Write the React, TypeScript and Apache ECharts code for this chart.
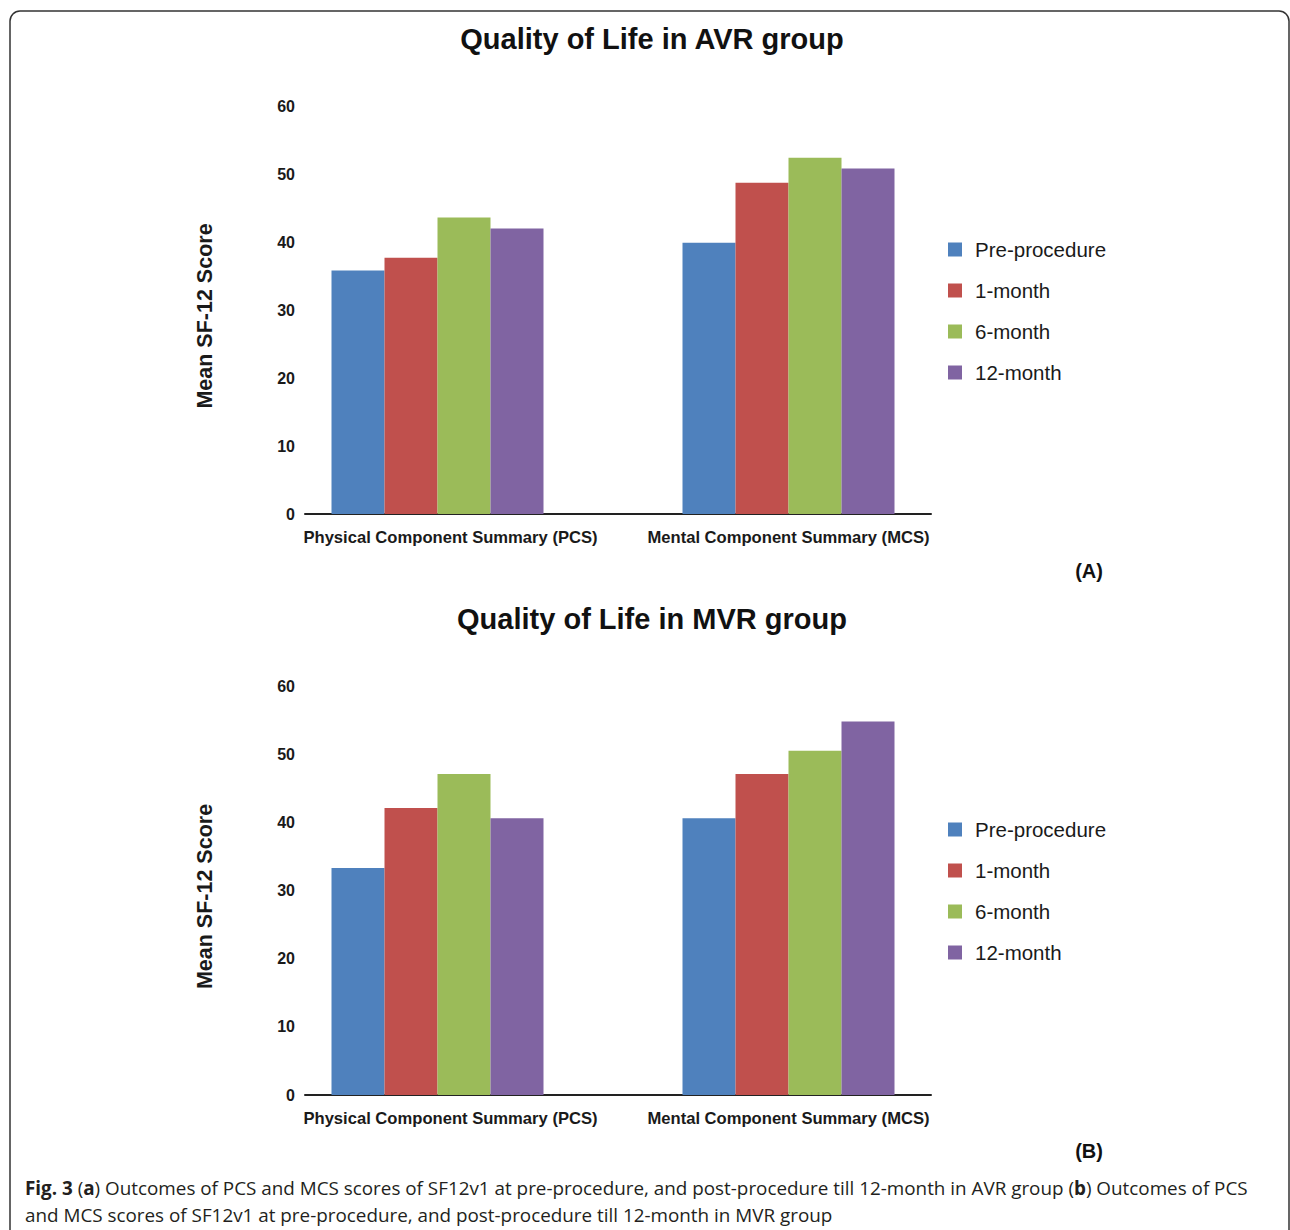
import React, { useEffect, useRef } from "react";
import * as echarts from "echarts";

const categories = ["Physical Component Summary (PCS)", "Mental Component Summary (MCS)"];
const seriesNames = ["Pre-procedure", "1-month", "6-month", "12-month"];
const seriesColors = ["#4F81BD", "#C0504D", "#9BBB59", "#8064A2"];

// AVR group [PCS, MCS]
const avrPre = [35.8, 39.9];
const avr1m = [37.7, 48.7];
const avr6m = [43.6, 52.4];
const avr12m = [42.0, 50.8];

// MVR group [PCS, MCS]
const mvrPre = [33.3, 40.6];
const mvr1m = [42.1, 47.1];
const mvr6m = [47.1, 50.5];
const mvr12m = [40.6, 54.8];

const yMin = 0;
const yMax = 60;
const yInterval = 10;

const titles = ["Quality of Life in AVR group", "Quality of Life in MVR group"];
const panelTags = ["(A)", "(B)"];
const yName = "Mean SF-12 Score";

const FONT = "'Liberation Sans', Arial, Helvetica, sans-serif";
const CAP_FONT = "'Open Sans', sans-serif";

export default function App() {
  const ref = useRef<HTMLDivElement>(null);

  useEffect(() => {
    document.body.style.margin = "0";
    if (!ref.current) return;
    const chart = echarts.init(ref.current, null, { renderer: "svg" });

    const panels = [
      { data: [avrPre, avr1m, avr6m, avr12m], top: 106, height: 408 },
      { data: [mvrPre, mvr1m, mvr6m, mvr12m], top: 686, height: 409 },
    ];

    const catLabelStyle = {
      fontFamily: FONT,
      fontWeight: "bold",
      fontSize: 16.6,
      color: "#1a1a1a",
    };

    const grids: any[] = [];
    const xAxes: any[] = [];
    const yAxes: any[] = [];
    const series: any[] = [];
    const legends: any[] = [];
    const graphics: any[] = [];

    panels.forEach((p, i) => {
      const gMain = i * 2;
      const gAxis = i * 2 + 1;
      grids.push({ left: 262, width: 702, top: p.top, height: p.height });
      grids.push({ left: 305, width: 626, top: p.top, height: p.height });
      xAxes.push({
        type: "category",
        gridIndex: gMain,
        data: categories,
        axisLine: { show: false },
        axisTick: { show: false },
        axisLabel: {
          margin: 15,
          ...catLabelStyle,
          interval: 0,
          formatter: (v: string, idx: number) => (idx === 0 ? `{p|${v}}` : `{m|${v}}`),
          rich: {
            p: { ...catLabelStyle, padding: [0, 0, 0, 26] },
            m: { ...catLabelStyle },
          },
        },
      });
      xAxes.push({
        type: "category",
        gridIndex: gAxis,
        data: categories,
        axisLine: { show: true, lineStyle: { color: "#222", width: 2 } },
        axisTick: { show: false },
        axisLabel: { show: false },
      });
      yAxes.push({
        type: "value",
        gridIndex: gMain,
        min: yMin,
        max: yMax,
        interval: yInterval,
        axisLine: { show: false },
        axisTick: { show: false },
        axisLabel: { show: false },
        splitLine: { show: false },
      });
      yAxes.push({
        type: "value",
        gridIndex: gAxis,
        min: yMin,
        max: yMax,
        interval: yInterval,
        axisLine: { show: false },
        axisTick: { show: false },
        splitLine: { show: false },
        axisLabel: {
          margin: 10,
          fontFamily: FONT,
          fontWeight: "bold",
          fontSize: 16,
          color: "#1a1a1a",
          padding: [0, 0, 6, 0],
        },
        name: yName,
        nameLocation: "middle",
        nameRotate: 90,
        nameGap: 89,
        nameTextStyle: {
          fontFamily: FONT,
          fontWeight: "bold",
          fontSize: 21.5,
          color: "#1a1a1a",
          padding: [0, 12, 0, 0],
        },
      });
      p.data.forEach((vals, k) => {
        series.push({
          type: "bar",
          name: seriesNames[k],
          xAxisIndex: gMain,
          yAxisIndex: gMain,
          data: vals,
          barWidth: 53,
          barGap: "0%",
          itemStyle: { color: seriesColors[k] },
        });
      });
      legends.push({
        orient: "vertical",
        left: 948,
        top: 239 + i * 580,
        padding: 0,
        itemWidth: 14,
        itemHeight: 14,
        itemGap: 20,
        icon: "rect",
        data: seriesNames,
        textStyle: {
          fontFamily: FONT,
          fontSize: 20.5,
          color: "#1a1a1a",
          padding: [0, 0, 0, 8],
        },
      });
      graphics.push({
        type: "text",
        x: 652,
        y: 39 + i * 580,
        style: {
          text: titles[i],
          fontFamily: FONT,
          fontWeight: "bold",
          fontSize: 29,
          fill: "#111",
          textAlign: "center",
          textVerticalAlign: "middle",
        },
      });
      graphics.push({
        type: "text",
        x: 1089,
        y: 571 + i * 580,
        style: {
          text: panelTags[i],
          fontFamily: FONT,
          fontWeight: "bold",
          fontSize: 20,
          fill: "#111",
          textAlign: "center",
          textVerticalAlign: "middle",
        },
      });
    });

    graphics.push({
      type: "rect",
      shape: { x: 10, y: 11, width: 1279, height: 1260, r: 10 },
      style: { fill: "none", stroke: "#333", lineWidth: 1.5 },
      silent: true,
    });

    const capRich = {
      n: { fontFamily: CAP_FONT, fontSize: 18.85, fill: "#231f20" },
      b: { fontFamily: CAP_FONT, fontSize: 18.85, fontWeight: "bold", fill: "#231f20" },
    };
    graphics.push({
      type: "text",
      x: 25,
      y: 1188,
      style: {
        text:
          "{b|Fig. 3}{n| (}{b|a}{n|) Outcomes of PCS and MCS scores of SF12v1 at pre-procedure, and post-procedure till 12-month in AVR group (}{b|b}{n|) Outcomes of PCS}",
        rich: capRich,
        textVerticalAlign: "middle",
      },
    });
    graphics.push({
      type: "text",
      x: 25,
      y: 1215,
      style: {
        text: "{n|and MCS scores of SF12v1 at pre-procedure, and post-procedure till 12-month in MVR group}",
        rich: capRich,
        textVerticalAlign: "middle",
      },
    });

    chart.setOption({
      animation: false,
      backgroundColor: "#fff",
      grid: grids,
      xAxis: xAxes,
      yAxis: yAxes,
      series,
      legend: legends,
      graphic: graphics,
    });

    return () => chart.dispose();
  }, []);

  return <div ref={ref} style={{ width: 1290, height: 1230 }} />;
}
